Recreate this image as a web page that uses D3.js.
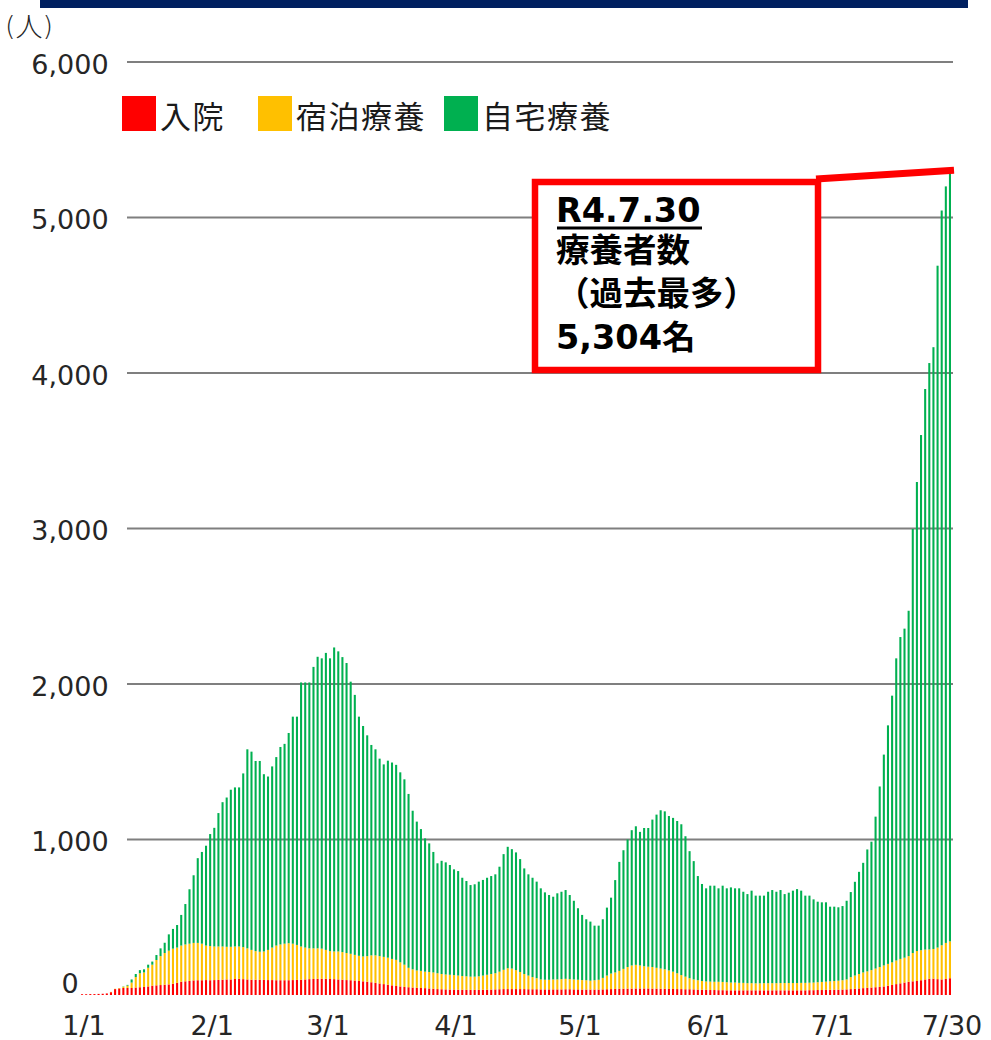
<!DOCTYPE html>
<html><head><meta charset="utf-8">
<script src="https://cdn.jsdelivr.net/npm/d3@7"></script>
<style>
html,body{margin:0;padding:0;background:#fff;}
svg{display:block;}
</style></head>
<body>
<svg id="chart" width="991" height="1040"></svg>
<script>
// ---- data ----
const hospital = [
5,5,6,6,7,8,10,18,38,42,
45,45,45,48,50,52,55,60,62,64,
66,68,72,78,85,88,90,94,95,95,
96,95,96,97,98,100,100,103,104,102,
100,98,98,97,97,96,96,95,95,95,
95,96,97,98,100,102,103,104,104,104,
103,102,100,98,96,95,93,90,88,85,
82,78,74,70,66,62,58,55,52,50,
48,46,45,44,42,40,38,37,36,35,
35,34,34,33,33,33,33,34,34,35,
36,37,38,38,38,38,38,38,37,37,
37,36,36,36,36,36,36,37,37,36,
36,35,35,35,35,35,36,37,38,39,
40,40,41,41,42,42,42,42,41,41,
40,40,39,39,38,38,37,37,36,35,
34,33,32,32,31,31,30,30,30,30,
30,30,30,30,30,30,30,30,30,30,
30,30,30,30,30,30,31,31,32,32,
33,33,34,34,35,36,38,40,42,44,
46,48,50,52,55,60,65,70,75,80,
85,88,90,95,100,104,105,102,100,103,108];
const hotel = [
0,0,0,0,0,0,0,2,2,3,
8,15,35,67,90,93,120,135,163,186,
204,217,226,227,233,237,240,241,240,235,
222,220,216,215,214,210,210,209,208,206,
200,192,184,181,183,194,209,223,230,235,
238,234,225,214,205,198,197,196,194,186,
179,178,180,178,174,170,165,162,160,165,
173,177,176,175,174,170,168,155,143,125,
117,112,110,106,106,105,102,98,96,95,
93,91,88,87,85,85,87,91,96,100,
104,113,124,134,132,122,110,97,88,78,
71,64,62,62,64,64,66,67,65,64,
62,61,60,57,60,63,74,88,100,106,
115,128,139,149,152,148,143,140,139,134,
130,125,119,111,102,90,81,71,64,60,
56,54,54,53,54,53,52,50,50,48,
48,46,46,45,45,46,46,46,46,47,
47,47,47,47,48,48,48,49,50,52,
53,55,56,58,60,64,77,85,93,101,
106,112,120,128,135,140,145,152,157,160,
165,182,193,193,192,189,191,203,220,232,237];
const home = [
0,0,0,0,0,0,0,0,0,0,
2,5,20,20,20,20,20,20,32,50,
66,105,127,145,197,260,350,435,545,590,
642,720,763,858,928,960,1010,1023,1023,1117,
1280,1275,1223,1227,1140,1115,1165,1212,1270,1285,
1352,1460,1468,1698,1705,1710,1810,1875,1867,1910,
1883,1955,1930,1897,1865,1750,1672,1538,1482,1420,
1353,1325,1270,1238,1267,1263,1254,1222,1192,1118,
1020,957,912,857,827,775,707,728,721,706,
680,672,632,613,589,594,609,615,624,630,
636,675,744,781,768,757,726,679,651,639,
621,586,562,545,532,554,562,571,541,506,
460,419,392,380,351,348,377,437,488,594,
701,763,820,870,891,859,889,892,948,985,
1018,1016,993,989,979,970,903,817,761,670,
624,599,617,618,601,619,604,612,606,608,
586,573,595,564,564,563,588,599,588,598,
572,581,594,604,593,561,560,535,518,512,
510,480,478,472,477,506,547,603,657,705,
784,826,977,1161,1356,1534,1715,1943,2070,2116,
2221,2727,3016,3313,3605,3771,3870,4385,4725,4865,4959];
const seriesNames = ["入院", "宿泊療養", "自宅療養"];
const seriesColors = ["#FF0000", "#FFC000", "#00B050"];
const yTickValues = [0, 1000, 2000, 3000, 4000, 5000, 6000];
const xTickLabels = ["1/1", "2/1", "3/1", "4/1", "5/1", "6/1", "7/1", "7/30"];
const unitParts = ["(", "人", ")"];
const calloutLines = ["R4.7.30", "療養者数", "（過去最多）", "5,304名"];

// ---- build ----
const days = d3.timeDay.range(new Date(2022, 0, 1), new Date(2022, 6, 31));
const dayLabels = days.map(d => (d.getMonth() + 1) + "/" + d.getDate());
const rows = dayLabels.map((k, i) => ({
  day: k, "入院": hospital[i], "宿泊療養": hotel[i], "自宅療養": home[i]
}));
const stacked = d3.stack().keys(seriesNames)(rows);
const color = d3.scaleOrdinal().domain(seriesNames).range(seriesColors);

const svg = d3.select("#chart");
const x = d3.scaleBand().domain(dayLabels).range([81, 951]).paddingInner(0.5).paddingOuter(0);
const y = d3.scaleLinear().domain([0, 6000]).range([995, 62]);

// top navy band
svg.append("rect").attr("x", 40).attr("y", 0).attr("width", 928).attr("height", 8).attr("fill", "#002060");

// grid lines
svg.append("g").selectAll("line")
  .data(yTickValues.filter(v => v > 0))
  .join("line")
  .attr("x1", 127).attr("x2", 953)
  .attr("y1", d => y(d)).attr("y2", d => y(d))
  .attr("stroke", "#7f7f7f").attr("stroke-width", 2);

// bars
svg.append("g").selectAll("g")
  .data(stacked)
  .join("g")
  .attr("fill", d => color(d.key))
  .selectAll("rect")
  .data(d => d)
  .join("rect")
  .attr("x", d => x(d.data.day))
  .attr("width", x.bandwidth())
  .attr("y", d => y(d[1]))
  .attr("height", d => Math.max(0, y(d[0]) - y(d[1])));

// y axis labels
const yAxis = svg.append("g").attr("transform", "translate(70,0)")
  .call(d3.axisLeft(y).tickValues(yTickValues).tickFormat(d3.format(",")).tickSize(0));
yAxis.select(".domain").remove();
yAxis.selectAll("text")
  .attr("x", 0).attr("text-anchor", "middle")
  .attr("dy", d => d === 0 ? "-0.08em" : "0.42em")
  .attr("fill", "#262626")
  .style("font-family", "'DejaVu Sans', sans-serif").style("font-size", "27px");

// x axis labels
const xAxis = svg.append("g").attr("transform", "translate(2,1035)")
  .call(d3.axisBottom(x).tickValues(xTickLabels).tickSize(0));
xAxis.select(".domain").remove();
xAxis.selectAll("text")
  .attr("y", 0).attr("dy", 0)
  .attr("fill", "#262626")
  .style("font-family", "'DejaVu Sans', sans-serif").style("font-size", "27px");

// unit label
const unit = svg.append("text").attr("x", 5).attr("y", 25).attr("dominant-baseline", "central")
  .attr("fill", "#262626").style("font-size", "27px");
unit.selectAll("tspan").data(unitParts).join("tspan")
  .style("font-family", (d, i) => i === 1 ? "'Noto Sans CJK JP', sans-serif" : "'DejaVu Sans', sans-serif")
  .style("font-weight", "300")
  .text(d => d);

// legend
const legendX = [122, 258, 444];
const lg = svg.append("g").selectAll("g").data(seriesNames).join("g")
  .attr("transform", (d, i) => `translate(${legendX[i]},96)`);
lg.append("rect").attr("width", 34).attr("height", 35).attr("fill", d => color(d));
lg.append("text").attr("x", 38).attr("y", 18).attr("dominant-baseline", "central")
  .style("font-family", "'Noto Sans CJK JP', sans-serif").style("font-size", "31px")
  .style("letter-spacing", "1.5px")
  .attr("fill", "#1a1a1a").text(d => d);

// callout
const lastIdx = dayLabels.length - 1;
const lastTotal = hospital[lastIdx] + hotel[lastIdx] + home[lastIdx];
svg.append("line")
  .attr("x1", 816).attr("y1", 179)
  .attr("x2", x(dayLabels[lastIdx]) + x.bandwidth() + 3).attr("y2", y(lastTotal))
  .attr("stroke", "#FF0000").attr("stroke-width", 7);
svg.append("rect").attr("x", 535).attr("y", 182).attr("width", 283).attr("height", 188)
  .attr("fill", "#fff").attr("stroke", "#FF0000").attr("stroke-width", 6.5);
const cy = [210, 250, 293, 337];
svg.append("g").selectAll("text").data(calloutLines).join("text")
  .attr("x", 556).attr("y", (d, i) => cy[i]).attr("dominant-baseline", "central")
  .style("font-family", "'DejaVu Sans', 'Noto Sans CJK JP', sans-serif")
  .style("font-size", "33.5px").style("font-weight", "bold")
  .attr("fill", "#000").text(d => d);
svg.append("line").attr("x1", 557).attr("x2", 702).attr("y1", 228).attr("y2", 228)
  .attr("stroke", "#000").attr("stroke-width", 3);
</script>
</body></html>
